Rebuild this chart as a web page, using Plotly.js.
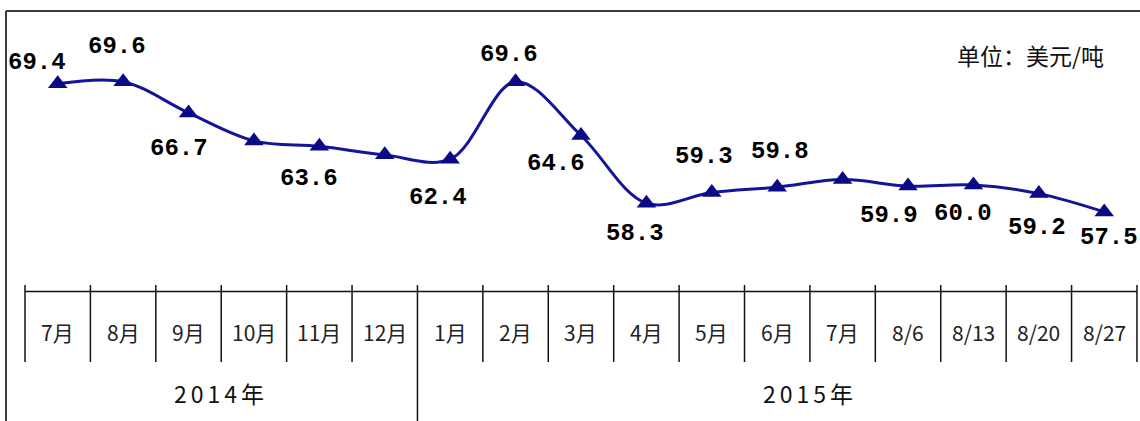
<!DOCTYPE html>
<html>
<head>
<meta charset="utf-8">
<script src="https://cdn.plot.ly/plotly-3.0.1.min.js"></script>
<style>
  html, body { margin: 0; padding: 0; background: #fff; }
  #chart { width: 1140px; height: 421px; }
  .annotation[data-index="0"] .annotation-text,
  .annotation[data-index="1"] .annotation-text { letter-spacing: 4px; }
</style>
</head>
<body>
<div id="chart"></div>
<script>
// ---- data ----
const categories = ['7月','8月','9月','10月','11月','12月','1月','2月','3月','4月','5月','6月','7月','8/6','8/13','8/20','8/27'];
const prices = [69.4, 69.6, 66.7, 64.1, 63.6, 62.8, 62.4, 69.6, 64.6, 58.3, 59.3, 59.8, 60.5, 59.9, 60.0, 59.2, 57.5];
const showLabel = [true, true, true, false, true, false, true, true, true, true, true, true, false, true, true, true, true];
const years = ['2014年', '2015年'];
const unitText = '单位：美元/吨';

// ---- layout constants (pixel geometry) ----
const W = 1140, H = 421;
const plotLeft = 25, cellW = 65.41;          // first cell edge & cell width in px
const xMin = -0.5 - plotLeft / cellW;
const xMax = -0.5 + (W - plotLeft) / cellW;
const yPxPerUnit = 10.76, yRefVal = 69.6, yRefPx = 81.7;
const yMax = yRefVal + yRefPx / yPxPerUnit;
const yMin = yRefVal - (H - yRefPx) / yPxPerUnit;
const py = px => 1 - px / H;                  // pixel row -> paper y

// label offsets (dx, dy in px, dy positive = downward)
const labelOffsets = [[-21,-21],[-6,-35],[-10,36],null,[-10,32],null,[-12,38],[-7,-27],[-25,28],[-11,30],[-8,-36],[3,-36],null,[-19,29],[-10,28],[-2,34],[5,26]];
const yearX = [2.5, 11.5];
const yearDivider = 5.5;

const idx = categories.map((_, i) => i);

const trace = {
  x: idx,
  y: prices,
  type: 'scatter',
  mode: 'lines+markers',
  line: { color: '#14149a', width: 3, shape: 'spline', smoothing: 1 },
  marker: { symbol: 'triangle-up', size: 17, color: '#0a0a84' },
  hoverinfo: 'skip',
  cliponaxis: false
};

const annotations = [];
// year labels first (indices 0,1 used by CSS letter spacing)
years.forEach((t, k) => annotations.push({
  x: yearX[k], y: py(393), xref: 'x', yref: 'paper', text: t, showarrow: false,
  xanchor: 'center', yanchor: 'middle',
  font: { family: 'Noto Sans CJK SC, sans-serif', size: 23, color: '#111' }
}));
// category labels
categories.forEach((c, i) => annotations.push({
  x: i, y: py(332), xref: 'x', yref: 'paper', text: c, showarrow: false,
  xanchor: 'center', yanchor: 'middle',
  font: { family: 'Noto Sans CJK SC, sans-serif', size: 21, color: '#222' }
}));
// value labels
prices.forEach((v, i) => {
  if (!showLabel[i]) return;
  const o = labelOffsets[i];
  annotations.push({
    x: i, y: v, xref: 'x', yref: 'y', text: v.toFixed(1), showarrow: false,
    xanchor: 'center', yanchor: 'middle', xshift: o[0], yshift: -o[1],
    font: { family: 'Liberation Mono, DejaVu Sans Mono, monospace', size: 24, color: '#000', weight: 'bold' }
  });
});
// unit
annotations.push({
  x: 1030 / W, y: py(55), xref: 'paper', yref: 'paper', text: unitText, showarrow: false,
  xanchor: 'center', yanchor: 'middle',
  font: { family: 'Noto Sans CJK SC, sans-serif', size: 23, color: '#111' }
});

const shapes = [];
// outer frame (left + top)
shapes.push({ type: 'line', xref: 'paper', yref: 'paper', x0: 6 / W, x1: 6 / W, y0: 0, y1: py(11), line: { color: '#3a3a3a', width: 2 } });
shapes.push({ type: 'line', xref: 'paper', yref: 'paper', x0: 6 / W, x1: 1, y0: py(11), y1: py(11), line: { color: '#3a3a3a', width: 2 } });
// table horizontal line
shapes.push({ type: 'line', xref: 'x', yref: 'paper', x0: -0.5, x1: categories.length - 0.5, y0: py(291.5), y1: py(291.5), line: { color: '#111', width: 1.5 } });
// table vertical lines
for (let i = 0; i <= categories.length; i++) {
  const xv = i - 0.5;
  const isDiv = Math.abs(xv - yearDivider) < 1e-9;
  shapes.push({ type: 'line', xref: 'x', yref: 'paper', x0: xv, x1: xv, y0: py(285), y1: isDiv ? 0 : py(362), line: { color: '#111', width: 1.5 } });
}

const layout = {
  width: W, height: H,
  margin: { l: 0, r: 0, t: 0, b: 0, pad: 0 },
  paper_bgcolor: '#fff', plot_bgcolor: '#fff',
  showlegend: false,
  xaxis: { range: [xMin, xMax], visible: false, fixedrange: true },
  yaxis: { range: [yMin, yMax], visible: false, fixedrange: true },
  annotations: annotations,
  shapes: shapes
};

Plotly.newPlot('chart', [trace], layout, { displayModeBar: false, staticPlot: true });
</script>
</body>
</html>
